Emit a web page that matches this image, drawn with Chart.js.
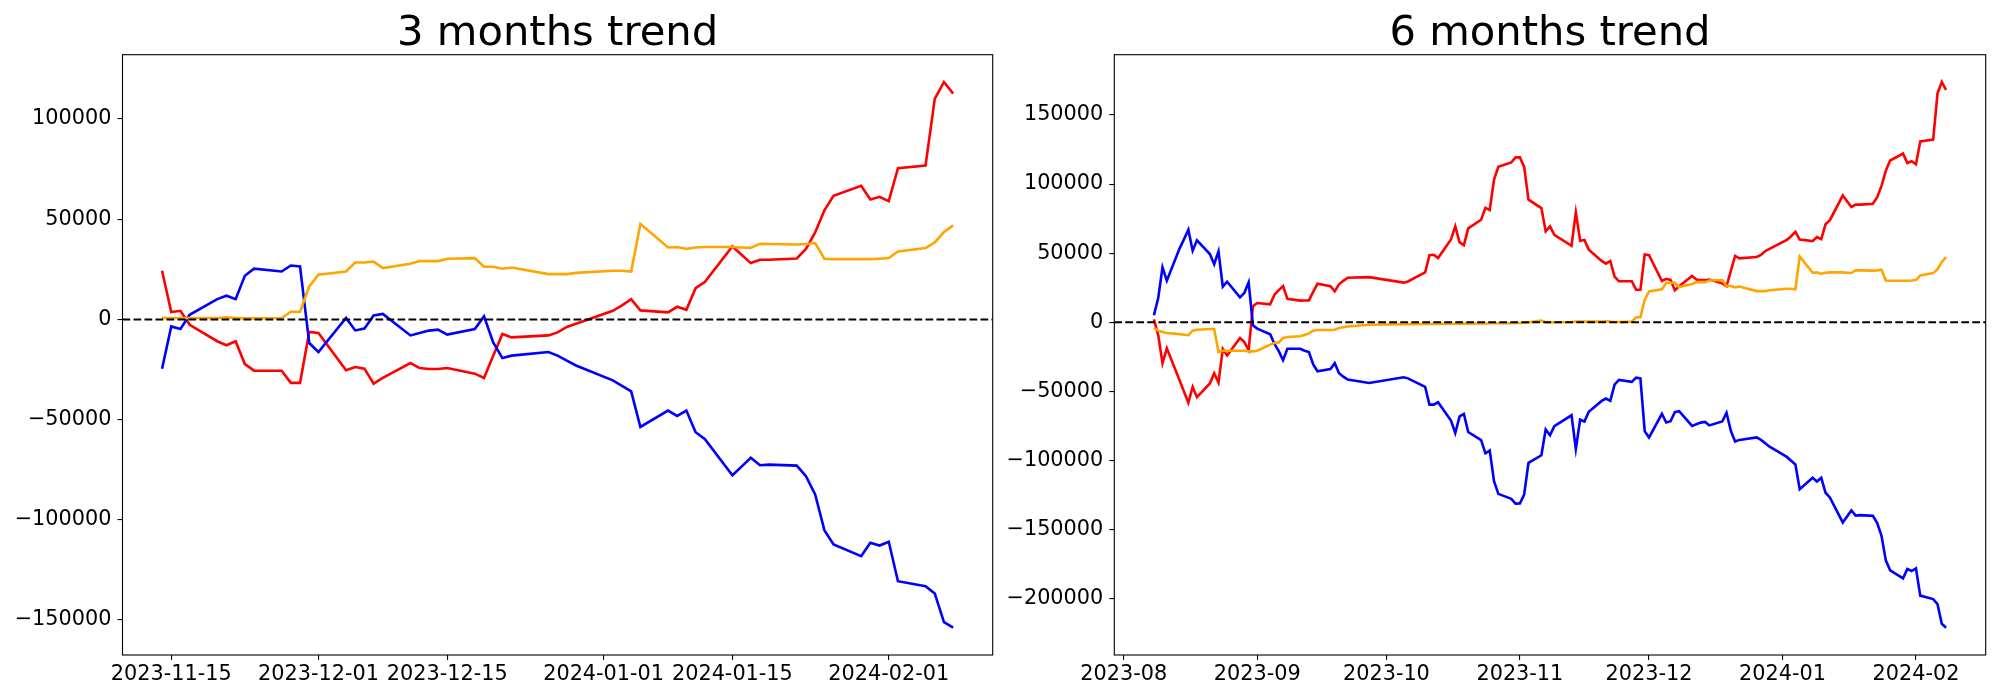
<!DOCTYPE html>
<html>
<head>
<meta charset="utf-8">
<script src="https://cdn.jsdelivr.net/npm/chart.js@4.4.1/dist/chart.umd.min.js"></script>
<style>
  html, body { margin: 0; padding: 0; background: #fff; }
  #wrap { position: relative; width: 2000px; height: 700px; }
  .box { position: absolute; top: 0; width: 1000px; height: 700px; }
</style>
</head>
<body>
<div id="wrap">
  <div class="box" style="left:0"><canvas id="c3" width="1000" height="700"></canvas></div>
  <div class="box" style="left:1000px"><canvas id="c6" width="1000" height="700"></canvas></div>
</div>
<script>
"use strict";

// 3 months: trading days from 2023-11-14
var dates3 = [
  '2023-11-14','2023-11-15','2023-11-16','2023-11-17','2023-11-20','2023-11-21','2023-11-22','2023-11-23','2023-11-24','2023-11-27','2023-11-28','2023-11-29','2023-11-30',
  '2023-12-01','2023-12-04','2023-12-05','2023-12-06','2023-12-07','2023-12-08','2023-12-11','2023-12-12','2023-12-13','2023-12-14','2023-12-15','2023-12-18','2023-12-19','2023-12-20','2023-12-21','2023-12-22','2023-12-26','2023-12-27','2023-12-28','2023-12-29',
  '2024-01-02','2024-01-03','2024-01-04','2024-01-05','2024-01-08','2024-01-09','2024-01-10','2024-01-11','2024-01-12','2024-01-15','2024-01-16','2024-01-17','2024-01-18','2024-01-19','2024-01-22','2024-01-23','2024-01-24','2024-01-25','2024-01-26','2024-01-29','2024-01-30','2024-01-31',
  '2024-02-01','2024-02-02','2024-02-05','2024-02-06','2024-02-07','2024-02-08'
];
var red3 = [
  24300,3700,4300,-2700,-10900,-12900,-10900,-22300,-25600,-25600,-31700,-31700,-6300,
  -6800,-25400,-23800,-24600,-32100,-29200,-21800,-24300,-24800,-24800,-24300,-27100,-29200,-18100,-7300,-9000,-8000,-6500,-3800,-2200,
  4300,7000,10100,4500,3500,6300,4800,15600,18600,36400,32300,28100,29800,29800,30400,35200,43400,54400,61700,66700,59900,61200,
  59000,75500,76800,110100,118500,112700
];
var blue3 = [
  -24600,-3500,-4800,2300,10100,11800,10100,21800,25300,23900,26900,26400,-11800,
  -16300,700,-5500,-4600,2000,2700,-8000,-6800,-5600,-5100,-7600,-4800,1500,-11500,-19300,-18100,-16300,-18100,-20600,-23000,
  -30400,-33200,-35900,-53700,-45500,-48200,-45500,-56300,-59700,-77800,-73500,-69100,-72800,-72500,-73000,-78300,-87400,-105200,-112400,-118200,-111500,-112900,
  -111000,-130700,-133200,-136800,-151100,-153900
];
var orange3 = [
  700,700,700,700,700,1000,700,500,500,700,3800,3800,16500,
  22300,23900,28400,28400,28800,25600,27800,29100,29100,29100,30300,30600,26300,26300,25300,25900,22600,22600,22600,23200,
  24300,24300,23900,47700,35900,36100,35200,35900,36100,36100,35900,35700,37700,37600,37400,37600,38100,30300,30100,30100,30100,30300,
  30600,33900,35600,38400,43600,46900
];
var xTicks3 = ['2023-11-15','2023-12-01','2023-12-15','2024-01-01','2024-01-15','2024-02-01'];
var yTicks3 = [-150000,-100000,-50000,0,50000,100000];

// 6 months: from 2023-08-08, the part after 2023-11-13 shares the dates above
var dates6 = [
  '2023-08-08','2023-08-09','2023-08-10','2023-08-11','2023-08-14','2023-08-15','2023-08-16','2023-08-17','2023-08-18','2023-08-21','2023-08-22','2023-08-23','2023-08-24','2023-08-25','2023-08-28','2023-08-29','2023-08-30','2023-08-31',
  '2023-09-01','2023-09-04','2023-09-05','2023-09-06','2023-09-07','2023-09-08','2023-09-11','2023-09-12','2023-09-13','2023-09-14','2023-09-15','2023-09-18','2023-09-19','2023-09-20','2023-09-21','2023-09-22','2023-09-27',
  '2023-10-05','2023-10-06','2023-10-10','2023-10-11','2023-10-12','2023-10-13','2023-10-16','2023-10-17','2023-10-18','2023-10-19','2023-10-20','2023-10-23','2023-10-24','2023-10-25','2023-10-26','2023-10-27','2023-10-30','2023-10-31',
  '2023-11-01','2023-11-02','2023-11-03','2023-11-06','2023-11-07','2023-11-08','2023-11-09','2023-11-13'
].concat(dates3);
var red6 = [
  2200,-9200,-29600,-18800,-42300,-50200,-58000,-46700,-54100,-44200,-36800,-43500,-19200,-24000,-11300,-14300,-20000,11600,
  14000,13000,20000,23300,26200,17000,15700,15800,15900,22000,28000,26200,22400,27500,30000,32300,32700,
  28700,29600,36100,48600,48900,46500,60000,69400,57800,55800,68000,74200,82800,81200,103300,112500,115600,119300,
  119300,112400,88700,82600,65800,69400,63300,55400,
  79600,59000,59600,52600,44400,42400,44400,33000,29700,29700,23600,23600,49000,
  48500,29900,31500,30700,23200,26100,33500,31000,30500,30500,31000,28200,26100,37200,48000,46300,47300,48800,51500,53100,
  59600,62300,65400,59800,58800,61600,60100,70900,73900,91700,87600,83400,85100,85100,85700,90500,98700,109700,117000,122000,115200,116500,
  114300,130800,132100,165400,173800,168000
];
var blue6 = [
  5100,17600,39800,30100,53700,60200,67000,51800,59300,49400,42000,51300,25800,29400,18100,21200,28900,-2100,
  -4500,-8600,-15500,-20800,-27400,-19100,-19100,-20500,-21500,-30500,-35400,-33700,-29500,-36800,-39300,-41400,-43800,
  -39700,-40500,-46700,-59500,-59500,-57800,-71000,-80000,-68000,-66200,-79300,-85200,-94700,-92700,-114900,-124000,-127600,-131100,
  -131000,-124500,-101600,-96100,-77500,-81600,-75100,-67200,
  -91500,-70400,-71700,-64600,-56800,-55100,-56800,-45100,-41600,-43000,-40000,-40500,-78700,
  -83200,-66200,-72400,-71500,-64900,-64200,-74900,-73700,-72500,-72000,-74500,-71700,-65400,-78400,-86200,-85000,-83200,-85000,-87500,-89900,
  -97300,-100100,-102800,-120600,-112400,-115100,-112400,-123200,-126600,-144700,-140400,-136000,-139700,-139400,-139900,-145200,-154300,-172100,-179300,-185100,-178400,-179800,
  -177900,-197600,-200100,-203700,-218000,-220800
];
var orange6 = [
  -4100,-6000,-7000,-7700,-8500,-9000,-9200,-6000,-5300,-4800,-4800,-21500,-20500,-20500,-20500,-20500,-21000,-21000,
  -20500,-16100,-14900,-14500,-11300,-10600,-10000,-9200,-8000,-6000,-5500,-5500,-5300,-4100,-3600,-3000,-1700,
  -1300,-1300,-1200,-1200,-1100,-1100,-1000,-1000,-1000,-900,-900,-800,-800,-700,-700,-600,-600,-500,
  -500,-300,0,1200,100,0,100,200,
  500,500,500,500,500,800,500,300,300,500,3700,3700,16400,
  22300,23900,28400,28400,28800,25600,27800,29100,29100,29100,30300,30600,26300,26300,25300,25900,22600,22600,22600,23200,
  24300,24300,23900,47700,35900,36100,35200,35900,36100,36100,35900,35700,37700,37600,37400,37600,38100,30300,30100,30100,30100,30300,
  30600,33900,35600,38400,43600,47200
];
var xTicks6 = ['2023-08','2023-09','2023-10','2023-11','2023-12','2024-01','2024-02'];
var yTicks6 = [-200000,-150000,-100000,-50000,0,50000,100000,150000];

var FONT = 'DejaVu Sans';

function toDay(s) {
  var p = s.split('-');
  return Date.UTC(+p[0], +p[1] - 1, p[2] ? +p[2] : 1) / 86400000;
}

function fmtNum(v) {
  return v < 0 ? '\u2212' + Math.abs(v) : String(v);
}

// box round the plot area, like matplotlib spines
var frame = {
  id: 'frame',
  afterDatasetsDraw: function (chart) {
    var a = chart.chartArea, ctx = chart.ctx;
    ctx.save();
    ctx.strokeStyle = '#000';
    ctx.lineWidth = 1.1;
    ctx.strokeRect(a.left, a.top, a.right - a.left, a.bottom - a.top);
    ctx.restore();
  }
};

function series(dates, values) {
  return dates.map(function (d, i) { return { x: toDay(d), y: values[i] }; });
}

function makeChart(id, title, dates, red, blue, orange, xTicks, yTicks, axisW, padRight) {
  var xs = dates.map(toDay);
  var x0 = xs[0], x1 = xs[xs.length - 1];
  var all = red.concat(blue, orange);
  var y0 = Math.min.apply(null, all), y1 = Math.max.apply(null, all);
  var xMin = x0 - (x1 - x0) * 0.05, xMax = x1 + (x1 - x0) * 0.05;
  var yMin = y0 - (y1 - y0) * 0.05, yMax = y1 + (y1 - y0) * 0.05;

  var line = function (data, color, order) {
    return { data: data, borderColor: color, borderWidth: 2.6, pointRadius: 0, tension: 0, fill: false, order: order };
  };

  return new Chart(document.getElementById(id), {
    type: 'line',
    data: {
      datasets: [
        line(series(dates, red), '#ff0000', 3),
        line(series(dates, blue), '#0000ff', 2),
        line(series(dates, orange), '#ffa500', 1),
        {
          data: [{ x: xMin, y: 0 }, { x: xMax, y: 0 }],
          borderColor: '#000', borderWidth: 2, borderDash: [7.7, 3.3],
          pointRadius: 0, fill: false, order: 0
        }
      ]
    },
    options: {
      responsive: false,
      animation: false,
      layout: { padding: { left: 0, right: padRight, top: 0, bottom: 0 } },
      plugins: {
        legend: { display: false },
        tooltip: { enabled: false },
        title: {
          display: true,
          fullSize: false,
          text: title,
          color: '#000',
          font: { family: FONT, size: 41.7, weight: 'normal', lineHeight: 1 },
          padding: { top: 13, bottom: 0 }
        }
      },
      scales: {
        x: {
          type: 'linear',
          min: xMin,
          max: xMax,
          border: { display: false },
          grid: { drawOnChartArea: false, drawTicks: true, tickLength: 5, color: '#000', lineWidth: 1.1 },
          ticks: {
            autoSkip: false, maxRotation: 0, padding: 2, color: '#000',
            font: { family: FONT, size: 20.8 },
            callback: function (v, i) { return xTicks[i]; }
          },
          afterBuildTicks: function (s) {
            s.ticks = xTicks.map(function (t) { return { value: toDay(t) }; });
          },
          afterFit: function (s) { s.height = 45; }
        },
        y: {
          type: 'linear',
          min: yMin,
          max: yMax,
          border: { display: false },
          grid: { drawOnChartArea: false, drawTicks: true, tickLength: 5, color: '#000', lineWidth: 1.1 },
          ticks: {
            padding: 6, color: '#000',
            font: { family: FONT, size: 20.8 },
            callback: function (v) { return fmtNum(v); }
          },
          afterBuildTicks: function (s) {
            s.ticks = yTicks.map(function (t) { return { value: t }; });
          },
          afterFit: function (s) { s.width = axisW; }
        }
      }
    },
    plugins: [frame]
  });
}

makeChart('c3', '3 months trend', dates3, red3, blue3, orange3, xTicks3, yTicks3, 122.5, 7.3);
makeChart('c6', '6 months trend', dates6, red6, blue6, orange6, xTicks6, yTicks6, 114.3, 14.3);
</script>
</body>
</html>
